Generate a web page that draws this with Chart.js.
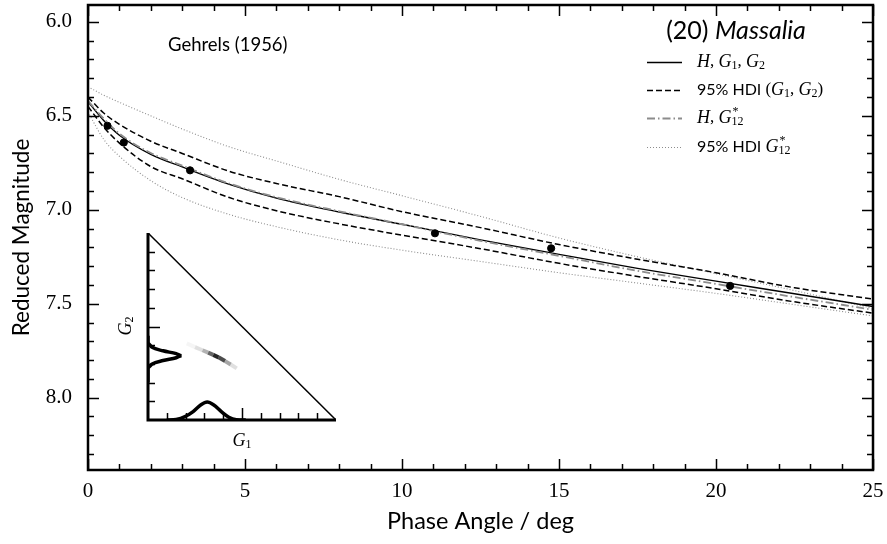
<!DOCTYPE html>
<html>
<head>
<meta charset="utf-8">
<script src="https://cdn.jsdelivr.net/npm/chart.js@4.4.1/dist/chart.umd.min.js"></script>
<style>
  html, body { margin: 0; padding: 0; background: #fff; }
  #wrap { position: relative; width: 887px; height: 544px; }
  #main { position: absolute; left: 0; top: 0; }
  #inset { position: absolute; left: 100px; top: 222px; }
</style>
</head>
<body>
<div id="wrap">
  <canvas id="main" width="887" height="544"></canvas>
  <canvas id="inset" width="250" height="240"></canvas>
</div>
<script>
// phase angle grid (deg) for the model curves
const phaseGrid = [0, 0.5, 1, 2, 3, 4.5, 6, 8, 10, 12.5, 15, 17.5, 20, 22.5, 25];
// reduced magnitude of the models
const fitG1G2      = [6.425, 6.525, 6.603, 6.705, 6.772, 6.865, 6.938, 7.012, 7.077, 7.160, 7.237, 7.312, 7.380, 7.447, 7.515];
const hdiG1G2Upper = [6.400, 6.485, 6.545, 6.635, 6.700, 6.795, 6.860, 6.930, 7.010, 7.095, 7.185, 7.263, 7.335, 7.415, 7.475];
const hdiG1G2Lower = [6.450, 6.560, 6.645, 6.770, 6.835, 6.935, 7.005, 7.075, 7.135, 7.207, 7.285, 7.355, 7.420, 7.490, 7.550];
const fitG12       = [6.420, 6.515, 6.595, 6.698, 6.765, 6.860, 6.933, 7.008, 7.077, 7.165, 7.245, 7.325, 7.395, 7.465, 7.532];
const hdiG12Upper  = [6.345, 6.390, 6.428, 6.500, 6.570, 6.665, 6.740, 6.838, 6.925, 7.035, 7.150, 7.250, 7.340, 7.430, 7.525];
const hdiG12Lower  = [6.480, 6.625, 6.715, 6.845, 6.935, 7.025, 7.090, 7.160, 7.215, 7.275, 7.335, 7.390, 7.445, 7.505, 7.565];

// Gehrels (1956) observations
const obsPhase = [0.62, 1.14, 3.25, 11.05, 14.75, 20.45];
const obsMag   = [6.553, 6.642, 6.790, 7.125, 7.205, 7.405];

const xTickValues = [0, 5, 10, 15, 20, 25];
const yTickValues = [6.0, 6.5, 7.0, 7.5, 8.0];

// inset: G1/G2 posterior
const hypotenuseG1 = [0, 1];
const hypotenuseG2 = [1, 0];
const margG2Values  = [0.45, 0.41, 0.39, 0.37, 0.355, 0.344, 0.333, 0.318, 0.298, 0.28, 0.20];
const margG2Density = [0, 0, 0.02, 0.08, 0.15, 0.179, 0.15, 0.08, 0.02, 0, 0];
const margG1Values  = [0.10, 0.15, 0.20, 0.24, 0.28, 0.315, 0.35, 0.39, 0.43, 0.47, 0.52];
const margG1Density = [0, 0.003, 0.02, 0.045, 0.08, 0.096, 0.08, 0.045, 0.015, 0.002, 0];
const blobG1    = [0.206, 0.25, 0.29, 0.32, 0.347, 0.375, 0.41, 0.44, 0.472];
const blobG2    = [0.41, 0.39, 0.373, 0.36, 0.348, 0.335, 0.315, 0.297, 0.276];
const blobShade = [0.04, 0.12, 0.3, 0.6, 0.85, 0.7, 0.35, 0.12, 0.04];

const pairs = (xs, ys) => xs.map((x, i) => ({ x: x, y: ys[i] }));

const MATH = "'Liberation Serif', serif";
const SANS = "Lato, 'Open Sans', sans-serif";

function lineSet(label, ys, color, width, dash, order) {
  return {
    label: label,
    data: pairs(phaseGrid, ys),
    borderColor: color,
    borderWidth: width,
    borderDash: dash,
    pointRadius: 0,
    fill: false,
    cubicInterpolationMode: 'monotone',
    order: order
  };
}

const styles = {
  solid:   { color: '#000', width: 1.4, dash: [] },
  dashed:  { color: '#000', width: 1.5, dash: [6, 3] },
  dashdot: { color: '#8c8c8c', width: 1.8, dash: [8, 3, 1.5, 3] },
  dotted:  { color: '#8c8c8c', width: 1.1, dash: [1, 2] }
};

function drawRich(ctx, parts, x, y, measureOnly) {
  let cx = x;
  parts.forEach(p => {
    ctx.font = p.font;
    const w = ctx.measureText(p.t).width;
    if (!measureOnly) ctx.fillText(p.t, cx, y + (p.dy || 0));
    let adv = w;
    if (p.sup) {
      ctx.font = p.supFont;
      if (!measureOnly) ctx.fillText(p.sup, cx + 1, y - 6);
      adv = Math.max(w, ctx.measureText(p.sup).width + 1);
    }
    cx += adv;
  });
  return cx - x;
}

const mi = "italic 18px " + MATH;
const sub = "12px " + MATH;
const sans = "16px " + SANS;
const sep = { t: ', ', font: "17px " + MATH };

const legendRows = [
  { style: 'solid', parts: [{ t: 'H', font: mi }, sep, { t: 'G', font: mi }, { t: '1', font: sub, dy: 4 }, sep, { t: 'G', font: mi }, { t: '2', font: sub, dy: 4 }] },
  { style: 'dashed', parts: [{ t: '95% HDI ', font: sans }, { t: '(', font: "17px " + MATH }, { t: 'G', font: mi }, { t: '1', font: sub, dy: 4 }, sep, { t: 'G', font: mi }, { t: '2', font: sub, dy: 4 }, { t: ')', font: "17px " + MATH }] },
  { style: 'dashdot', parts: [{ t: 'H', font: mi }, sep, { t: 'G', font: mi }, { t: '12', font: sub, dy: 4, sup: '*', supFont: sub }] },
  { style: 'dotted', parts: [{ t: '95% HDI ', font: sans }, { t: 'G', font: mi }, { t: '12', font: sub, dy: 4, sup: '*', supFont: sub }] }
];
const legendRowY = [62, 90, 118, 147];

function noPad(s) {
  s.paddingLeft = 0; s.paddingRight = 0; s.paddingTop = 0; s.paddingBottom = 0;
}

const axisFrame = {
  id: 'axisFrame',
  afterDraw(chart) {
    const { ctx, chartArea: a, scales } = chart;
    ctx.save();
    ctx.strokeStyle = '#000';
    ctx.lineWidth = 1.5;
    ctx.beginPath();
    for (let v = 0; v <= 25; v++) {
      const px = Math.round(scales.x.getPixelForValue(v)) + 0.5;
      const len = v % 5 === 0 ? 11 : 6;
      ctx.moveTo(px, a.bottom); ctx.lineTo(px, a.bottom - len);
      ctx.moveTo(px, a.top); ctx.lineTo(px, a.top + len);
    }
    for (let k = 60; k <= 83; k++) {
      const py = Math.round(scales.y.getPixelForValue(k / 10)) + 0.5;
      const len = k % 5 === 0 ? 11 : 6;
      ctx.moveTo(a.left, py); ctx.lineTo(a.left + len, py);
      ctx.moveTo(a.right, py); ctx.lineTo(a.right - len, py);
    }
    ctx.stroke();
    ctx.lineWidth = 2.5;
    ctx.strokeRect(a.left, a.top, a.right - a.left, a.bottom - a.top);

    // annotation
    ctx.fillStyle = '#000';
    ctx.textBaseline = 'middle';
    ctx.font = "18.5px " + SANS;
    ctx.fillText('Gehrels (1956)', 168, 45);

    // legend title
    const title = [{ t: '(20) ', font: "25px " + SANS }, { t: 'Massalia', font: "italic 25px " + SANS }];
    const tw = drawRich(ctx, title, 0, 0, true);
    drawRich(ctx, title, 736 - tw / 2, 31);

    legendRows.forEach((row, i) => {
      const st = styles[row.style];
      const y = legendRowY[i];
      ctx.save();
      ctx.strokeStyle = st.color;
      ctx.lineWidth = st.width;
      ctx.setLineDash(st.dash);
      ctx.beginPath();
      ctx.moveTo(647, y + 0.5);
      ctx.lineTo(682, y + 0.5);
      ctx.stroke();
      ctx.restore();
      drawRich(ctx, row.parts, 697, y);
    });
    ctx.restore();
  }
};

new Chart(document.getElementById('main'), {
  type: 'line',
  data: {
    datasets: [
      lineSet('95% HDI G12* upper', hdiG12Upper, styles.dotted.color, styles.dotted.width, styles.dotted.dash, 6),
      lineSet('95% HDI G12* lower', hdiG12Lower, styles.dotted.color, styles.dotted.width, styles.dotted.dash, 6),
      lineSet('95% HDI (G1, G2) upper', hdiG1G2Upper, styles.dashed.color, styles.dashed.width, styles.dashed.dash, 5),
      lineSet('95% HDI (G1, G2) lower', hdiG1G2Lower, styles.dashed.color, styles.dashed.width, styles.dashed.dash, 5),
      lineSet('H, G1, G2', fitG1G2, styles.solid.color, styles.solid.width, styles.solid.dash, 4),
      lineSet('H, G12*', fitG12, styles.dashdot.color, styles.dashdot.width, styles.dashdot.dash, 3),
      {
        type: 'scatter',
        label: 'Gehrels (1956)',
        data: pairs(obsPhase, obsMag),
        pointRadius: 3.6,
        pointBackgroundColor: '#000',
        pointBorderColor: '#000',
        showLine: false,
        order: 1
      }
    ]
  },
  options: {
    responsive: false,
    animation: false,
    layout: { autoPadding: false, padding: { top: 5, right: 14, left: 0, bottom: 0 } },
    plugins: { legend: { display: false }, tooltip: { enabled: false } },
    scales: {
      x: {
        type: 'linear', min: 0, max: 25,
        afterBuildTicks: s => { s.ticks = xTickValues.map(v => ({ value: v })); },
        afterFit: s => { s.height = 74; noPad(s); },
        grid: { display: false, drawTicks: false },
        border: { display: false },
        ticks: { color: '#000', font: { family: MATH, size: 21 }, padding: 9, maxRotation: 0 },
        title: { display: true, text: 'Phase Angle / deg', color: '#000', font: { family: SANS, size: 23.5 }, padding: { top: 0, bottom: 8 } }
      },
      y: {
        type: 'linear', reverse: true, min: 5.91, max: 8.385,
        afterBuildTicks: s => { s.ticks = yTickValues.map(v => ({ value: v })); },
        afterFit: s => { s.width = 88; noPad(s); },
        grid: { display: false, drawTicks: false },
        border: { display: false },
        ticks: { color: '#000', font: { family: MATH, size: 21 }, padding: 16, callback: v => v.toFixed(1) },
        title: { display: true, text: 'Reduced Magnitude', color: '#000', font: { family: SANS, size: 22.5 }, padding: { top: 8, bottom: 0 } }
      }
    }
  },
  plugins: [axisFrame]
});

// inset triangle
const insetAxes = {
  id: 'insetAxes',
  afterDraw(chart) {
    const { ctx, chartArea: a, scales } = chart;
    ctx.save();
    ctx.strokeStyle = '#000';
    ctx.lineWidth = 1.5;
    ctx.beginPath();
    for (let k = 1; k <= 9; k++) {
      const len = k === 5 ? 12 : 7;
      const px = Math.round(scales.x.getPixelForValue(k / 10)) + 0.5;
      ctx.moveTo(px, a.bottom); ctx.lineTo(px, a.bottom - len);
      const py = Math.round(scales.y.getPixelForValue(k / 10)) + 0.5;
      ctx.moveTo(a.left, py); ctx.lineTo(a.left + len, py);
    }
    ctx.stroke();
    ctx.lineWidth = 3;
    ctx.beginPath();
    ctx.moveTo(a.left, a.top);
    ctx.lineTo(a.left, a.bottom);
    ctx.lineTo(a.right, a.bottom);
    ctx.stroke();

    ctx.fillStyle = '#000';
    ctx.textBaseline = 'middle';
    const g1 = [{ t: 'G', font: mi }, { t: '1', font: sub, dy: 4 }];
    const w1 = drawRich(ctx, g1, 0, 0, true);
    drawRich(ctx, g1, 142 - w1 / 2, 219);
    ctx.translate(26, 104);
    ctx.rotate(-Math.PI / 2);
    drawRich(ctx, g1.map((p, i) => i === 1 ? Object.assign({}, p, { t: '2' }) : p), -w1 / 2, 0);
    ctx.restore();
  }
};

new Chart(document.getElementById('inset'), {
  type: 'line',
  data: {
    datasets: [
      {
        label: 'posterior',
        data: pairs(blobG1, blobG2),
        borderWidth: 4,
        borderCapStyle: 'butt',
        borderJoinStyle: 'miter',
        pointRadius: 0,
        segment: { borderColor: c => 'rgba(0,0,0,' + blobShade[c.p0DataIndex] + ')' }
      },
      {
        label: 'hypotenuse',
        data: pairs(hypotenuseG1, hypotenuseG2),
        borderColor: '#000', borderWidth: 1.5, pointRadius: 0
      },
      {
        label: 'G2 marginal',
        data: pairs(margG2Density, margG2Values),
        borderColor: '#000', borderWidth: 3.5, pointRadius: 0, cubicInterpolationMode: 'monotone'
      },
      {
        label: 'G1 marginal',
        data: pairs(margG1Values, margG1Density),
        borderColor: '#000', borderWidth: 3.5, pointRadius: 0, cubicInterpolationMode: 'monotone'
      }
    ]
  },
  options: {
    responsive: false,
    animation: false,
    layout: { autoPadding: false, padding: { left: 48, right: 14, top: 11, bottom: 42 } },
    plugins: { legend: { display: false }, tooltip: { enabled: false } },
    scales: {
      x: { type: 'linear', min: 0, max: 1, display: false },
      y: { type: 'linear', min: 0, max: 1, display: false }
    }
  },
  plugins: [insetAxes]
});
</script>
</body>
</html>
